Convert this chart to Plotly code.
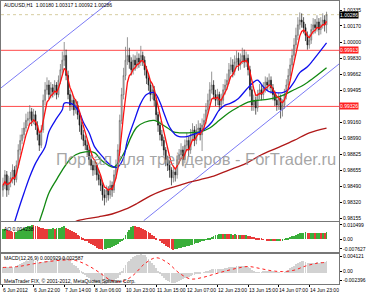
import pandas as pd
import plotly.graph_objects as go

# ---------------- data ----------------
first_open = 0.9845
close = [
    0.9850, 0.9861, 0.9845, 0.9853, 0.9858, 0.9866, 0.9856, 0.9871, 0.9887, 0.9897,
    0.9903, 0.9910, 0.9918, 0.9920, 0.9927, 0.9918, 0.9924, 0.9913, 0.9903, 0.9892,
    0.9908, 0.9939, 0.9950, 0.9955, 0.9945, 0.9952, 0.9948, 0.9955, 0.9945, 0.9960,
    0.9971, 0.9981, 0.9986, 0.9965, 0.9945, 0.9934, 0.9939, 0.9929, 0.9934, 0.9924,
    0.9913, 0.9903, 0.9897, 0.9892, 0.9887, 0.9877, 0.9871, 0.9866, 0.9871, 0.9861,
    0.9856, 0.9850, 0.9840, 0.9837, 0.9845, 0.9840, 0.9850, 0.9845, 0.9861, 0.9871,
    0.9887, 0.9918, 0.9945, 0.9965, 0.9981, 0.9986, 0.9979, 0.9971, 0.9981, 0.9976,
    0.9983, 0.9979, 0.9986, 0.9981, 0.9971, 0.9962, 0.9955, 0.9945, 0.9950, 0.9939,
    0.9924, 0.9913, 0.9903, 0.9897, 0.9887, 0.9877, 0.9871, 0.9866, 0.9858, 0.9864,
    0.9861, 0.9877, 0.9882, 0.9887, 0.9877, 0.9892, 0.9897, 0.9887, 0.9903, 0.9908,
    0.9897, 0.9908, 0.9910, 0.9903, 0.9913, 0.9918, 0.9929, 0.9939, 0.9950, 0.9955,
    0.9945, 0.9939, 0.9945, 0.9934, 0.9939, 0.9950, 0.9955, 0.9960, 0.9971, 0.9976,
    0.9969, 0.9979, 0.9983, 0.9976, 0.9981, 0.9986, 0.9979, 0.9983, 0.9971, 0.9950,
    0.9934, 0.9939, 0.9931, 0.9945, 0.9950, 0.9945, 0.9952, 0.9958, 0.9955, 0.9960,
    0.9952, 0.9945, 0.9939, 0.9934, 0.9941, 0.9929, 0.9934, 0.9945, 0.9955, 0.9965,
    0.9976, 0.9986, 0.9997, 1.0007, 1.0018, 1.0023, 1.0021, 1.0015, 1.0007, 0.9997,
    1.0002, 1.0013, 1.0018, 1.0015, 1.0021, 1.0013, 1.0018, 1.0023, 1.0018, 1.00286,
]
high = [
    0.9858, 0.9866, 0.9865, 0.9860, 0.9864, 0.9872, 0.9870, 0.9876, 0.9893, 0.9903,
    0.9910, 0.9916, 0.9925, 0.9927, 0.9934, 0.9931, 0.9930, 0.9928, 0.9917, 0.9906,
    0.9913, 0.9945, 0.9958, 0.9963, 0.9960, 0.9958, 0.9956, 0.9960, 0.9958, 0.9965,
    0.9977, 0.9990, 1.0000, 0.9992, 0.9970, 0.9950, 0.9945, 0.9943, 0.9940, 0.9938,
    0.9928, 0.9917, 0.9908, 0.9902, 0.9898, 0.9890, 0.9882, 0.9876, 0.9877, 0.9874,
    0.9866, 0.9860, 0.9853, 0.9846, 0.9850, 0.9849, 0.9855, 0.9854, 0.9866, 0.9877,
    0.9893, 0.9924, 0.9952, 0.9973, 0.9995, 1.0005, 0.9994, 0.9984, 0.9987, 0.9986,
    0.9990, 0.9988, 0.9996, 0.9990, 0.9985, 0.9975, 0.9967, 0.9959, 0.9956, 0.9954,
    0.9942, 0.9927, 0.9917, 0.9908, 0.9901, 0.9890, 0.9881, 0.9876, 0.9869, 0.9870,
    0.9868, 0.9882, 0.9888, 0.9894, 0.9891, 0.9898, 0.9905, 0.9901, 0.9909, 0.9915,
    0.9912, 0.9914, 0.9918, 0.9915, 0.9920, 0.9925, 0.9936, 0.9946, 0.9958, 0.9969,
    0.9960, 0.9950, 0.9951, 0.9948, 0.9946, 0.9956, 0.9961, 0.9967, 0.9978, 0.9984,
    0.9982, 0.9986, 0.9991, 0.9989, 0.9988, 0.9994, 0.9992, 0.9990, 0.9987, 0.9975,
    0.9954, 0.9945, 0.9943, 0.9950, 0.9956, 0.9955, 0.9958, 0.9964, 0.9963, 0.9967,
    0.9964, 0.9956, 0.9949, 0.9944, 0.9947, 0.9945, 0.9940, 0.9951, 0.9961, 0.9972,
    0.9983, 0.9993, 1.0004, 1.0015, 1.0026, 1.0031, 1.0030, 1.0026, 1.0019, 1.0011,
    1.0008, 1.0019, 1.0025, 1.0024, 1.0028, 1.0025, 1.0026, 1.0030, 1.0028, 1.00317,
]
low = [
    0.9838, 0.9846, 0.9838, 0.9840, 0.9848, 0.9852, 0.9850, 0.9853, 0.9868, 0.9882,
    0.9893, 0.9899, 0.9906, 0.9912, 0.9915, 0.9912, 0.9914, 0.9908, 0.9897, 0.9886,
    0.9889, 0.9905, 0.9934, 0.9945, 0.9940, 0.9941, 0.9942, 0.9944, 0.9940, 0.9942,
    0.9956, 0.9967, 0.9975, 0.9960, 0.9940, 0.9928, 0.9929, 0.9923, 0.9925, 0.9919,
    0.9906, 0.9898, 0.9891, 0.9887, 0.9881, 0.9871, 0.9866, 0.9860, 0.9861, 0.9855,
    0.9850, 0.9844, 0.9834, 0.9829, 0.9832, 0.9834, 0.9836, 0.9838, 0.9842, 0.9857,
    0.9867, 0.9884, 0.9914, 0.9940, 0.9960, 0.9976, 0.9972, 0.9965, 0.9966, 0.9970,
    0.9972, 0.9973, 0.9975, 0.9975, 0.9965, 0.9956, 0.9949, 0.9938, 0.9940, 0.9933,
    0.9918, 0.9906, 0.9897, 0.9891, 0.9881, 0.9870, 0.9865, 0.9858, 0.9850, 0.9853,
    0.9854, 0.9857, 0.9872, 0.9877, 0.9870, 0.9873, 0.9887, 0.9880, 0.9883, 0.9898,
    0.9891, 0.9893, 0.9903, 0.9897, 0.9886, 0.9908, 0.9914, 0.9925, 0.9934, 0.9946,
    0.9940, 0.9933, 0.9934, 0.9928, 0.9930, 0.9935, 0.9945, 0.9950, 0.9956, 0.9966,
    0.9963, 0.9965, 0.9974, 0.9970, 0.9971, 0.9977, 0.9973, 0.9974, 0.9965, 0.9943,
    0.9928, 0.9928, 0.9924, 0.9927, 0.9940, 0.9939, 0.9940, 0.9947, 0.9949, 0.9950,
    0.9946, 0.9939, 0.9933, 0.9928, 0.9929, 0.9920, 0.9922, 0.9930, 0.9940, 0.9950,
    0.9960, 0.9971, 0.9981, 0.9992, 1.0002, 1.0013, 1.0015, 1.0009, 1.0001, 0.9992,
    0.9993, 0.9998, 1.0008, 1.0009, 1.0011, 1.0007, 1.0008, 1.0014, 1.0011, 1.00092,
]

# moving averages (bar index, price)
ma_blue_i = [6, 8, 11, 14, 17, 19, 22, 24, 28, 31, 32, 35, 37, 40, 42, 45, 48, 52, 55, 58, 60,
             63, 65, 69, 72, 75, 79, 82, 84, 87, 90, 92, 96, 99, 103, 106, 109, 113, 116, 119,
             123, 127, 131, 133, 136, 139, 142, 146, 149, 152, 155, 159, 162, 169]
ma_blue_p = [0.9811, 0.9824, 0.9842, 0.9859, 0.9873, 0.9880, 0.9890, 0.9906, 0.9920, 0.9929, 0.9936,
             0.9936, 0.9934, 0.9926, 0.9916, 0.9905, 0.9890, 0.9880, 0.9873, 0.9869, 0.9869,
             0.9879, 0.9897, 0.9920, 0.9936, 0.9945, 0.9947, 0.9937, 0.9926, 0.9911, 0.9903,
             0.9901, 0.9901, 0.9903, 0.9906, 0.9910, 0.9916, 0.9929, 0.9934, 0.9936,
             0.9941, 0.9950, 0.9958, 0.9960, 0.9953, 0.9948, 0.9947, 0.9947, 0.9950, 0.9958,
             0.9968, 0.9974, 0.9981, 0.9999]
ma_green_i = [19, 21, 24, 28, 31, 35, 38, 43, 48, 51, 55, 58, 60, 64, 67, 70, 74, 79, 82, 86, 89,
              92, 97, 103, 108, 113, 118, 123, 128, 133, 138, 143, 147, 152, 157, 162, 169]
ma_green_p = [0.9812, 0.9824, 0.9842, 0.9856, 0.9866, 0.9877, 0.9882, 0.9885, 0.9884, 0.9877,
              0.9871, 0.9869, 0.9873, 0.9887, 0.9901, 0.9911, 0.9916, 0.9918, 0.9915, 0.9910,
              0.9906, 0.9905, 0.9905, 0.9906, 0.9910, 0.9918, 0.9926, 0.9932, 0.9937, 0.9939,
              0.9940, 0.9942, 0.9945, 0.9950, 0.9955, 0.9962, 0.9973]
ma_slow_i = [36, 39, 50, 57, 64, 70, 77, 84, 92, 97, 103, 109, 118, 127, 135, 143, 152, 160, 169]
ma_slow_p = [0.9810, 0.9813, 0.9817, 0.9820, 0.9825, 0.9831, 0.9839, 0.9845, 0.9850, 0.9853,
             0.9856, 0.9859, 0.9866, 0.9873, 0.9882, 0.9889, 0.9897, 0.9905, 0.9910]

# trend channel anchors (bar index, price)
chan_up_i = [-1, 57]
chan_up_p = [0.9952, 1.0044]
chan_dn_i = [73.5, 175.5]
chan_dn_p = [0.9813, 0.9977]

level_lines = [0.99913, 0.99326]
bid_price = 1.00286

price_ticks = [1.00335, 1.00170, 1.00000, 0.99830, 0.99662, 0.99495, 0.99160,
               0.98990, 0.98825, 0.98655, 0.98490, 0.98320, 0.98155]

ao = [
    0.0060, 0.0064, 0.0058, 0.0052, 0.0048, 0.0046, 0.0042, 0.0044, 0.0050, 0.0056,
    0.0062, 0.0068, 0.0074, 0.0078, 0.0082, 0.0086, 0.0085, 0.0082, 0.0078, 0.0072,
    0.0068, 0.0066, 0.0064, 0.0062, 0.0063, 0.0064, 0.0066, 0.0065, 0.0066, 0.0068,
    0.0071, 0.0075, 0.0078, 0.0070, 0.0063, 0.0055, 0.0048, 0.0042, 0.0036, 0.0028,
    0.0020, 0.0012, 0.0004, -0.0004, -0.0012, -0.0020, -0.0028, -0.0036, -0.0043, -0.0050,
    -0.0056, -0.0060, -0.0063, -0.0061, -0.0058, -0.0055, -0.0051, -0.0046, -0.0040, -0.0034,
    -0.0026, -0.0018, -0.0008, 0.0008, 0.0025, 0.0042, 0.0058, 0.0072, 0.0082, 0.0080,
    0.0077, 0.0073, 0.0069, 0.0064, 0.0058, 0.0051, 0.0044, 0.0036, 0.0028, 0.0019,
    0.0010, 0.0000, -0.0010, -0.0020, -0.0030, -0.0039, -0.0047, -0.0054, -0.0059, -0.0062,
    -0.0060, -0.0057, -0.0054, -0.0051, -0.0049, -0.0046, -0.0042, -0.0039, -0.0035, -0.0031,
    -0.0028, -0.0024, -0.0021, -0.0017, -0.0012, -0.0008, -0.0003, 0.0003, 0.0009, 0.0015,
    0.0020, 0.0024, 0.0028, 0.0031, 0.0033, 0.0032, 0.0034, 0.0031, 0.0030, 0.0032,
    0.0029, 0.0031, 0.0028, 0.0027, 0.0029, 0.0026, 0.0024, 0.0025, 0.0022, 0.0020,
    0.0016, 0.0013, 0.0009, 0.0007, 0.0005, 0.0004, 0.0002, 0.0000, -0.0004, -0.0006,
    -0.0005, -0.0007, -0.0008, -0.0007, -0.0005, -0.0006, -0.0004, -0.0001, 0.0003, 0.0008,
    0.0013, 0.0018, 0.0023, 0.0028, 0.0032, 0.0036, 0.0039, 0.0041, 0.0042, 0.0040,
    0.0039, 0.0040, 0.0041, 0.0039, 0.0040, 0.0041, 0.0040, 0.0041, 0.0040, 0.004238,
]
macd_main = [
    0.0012, 0.0013, 0.0012, 0.0012, 0.0013, 0.0014, 0.0014, 0.0015, 0.0017, 0.0019,
    0.0021, 0.0023, 0.0025, 0.0026, 0.0028, 0.0028, 0.0028, 0.0027, 0.0025, 0.0022,
    0.0021, 0.0023, 0.0025, 0.0027, 0.0027, 0.0028, 0.0028, 0.0029, 0.0028, 0.0029,
    0.0031, 0.0033, 0.0035, 0.0033, 0.0029, 0.0025, 0.0022, 0.0018, 0.0015, 0.0011,
    0.0007, 0.0003, -0.0001, -0.0005, -0.0008, -0.0012, -0.0015, -0.0018, -0.0019, -0.0021,
    -0.0022, -0.0023, -0.0024, -0.0024, -0.0023, -0.0022, -0.0021, -0.0019, -0.0017, -0.0014,
    -0.0010, -0.0004, 0.0003, 0.0010, 0.0017, 0.0023, 0.0027, 0.0030, 0.0034, 0.0036,
    0.0039, 0.0040, 0.0041, 0.0040, 0.0038, 0.0035, 0.0031, 0.0026, 0.0022, 0.0017,
    0.0011, 0.0005, -0.0001, -0.0006, -0.0011, -0.0015, -0.0018, -0.0020, -0.0022, -0.0022,
    -0.0021, -0.0019, -0.0017, -0.0015, -0.0014, -0.0012, -0.0010, -0.0009, -0.0007, -0.0005,
    -0.0004, -0.0003, -0.0002, -0.0001, 0.0000, 0.0001, 0.0003, 0.0005, 0.0007, 0.0009,
    0.0009, 0.0009, 0.0009, 0.0008, 0.0008, 0.0009, 0.0010, 0.0011, 0.0012, 0.0013,
    0.0013, 0.0014, 0.0015, 0.0015, 0.0015, 0.0016, 0.0015, 0.0015, 0.0013, 0.0010,
    0.0006, 0.0004, 0.0002, 0.0002, 0.0002, 0.0002, 0.0003, 0.0003, 0.0004, 0.0004,
    0.0004, 0.0003, 0.0002, 0.0001, 0.0001, 0.0000, 0.0000, 0.0002, 0.0004, 0.0007,
    0.0010, 0.0013, 0.0016, 0.0019, 0.0022, 0.0024, 0.0025, 0.0025, 0.0024, 0.0022,
    0.0021, 0.0021, 0.0022, 0.0022, 0.0023, 0.0022, 0.0023, 0.0024, 0.0023, 0.0026,
]
sig_i = [0, 8, 16, 24, 32, 38, 44, 50, 56, 62, 68, 74, 80, 86, 92, 98, 104, 110, 116, 122,
         128, 134, 140, 146, 152, 158, 164, 169]
sig_v = [0.0012, 0.0014, 0.0020, 0.0025, 0.0028, 0.0027, 0.0017, 0.0002, -0.0015, -0.0019,
         -0.0005, 0.0020, 0.0033, 0.0022, 0.0000, -0.0013, -0.0010, -0.0003, 0.0004, 0.0010,
         0.0014, 0.0010, 0.0005, 0.0003, 0.0006, 0.0015, 0.0021, 0.0023]

date_ticks = [0, 16, 32, 48, 64, 80, 96, 112, 128, 144, 160]
date_labels = ["6 Jun 2012", "6 Jun 22:00", "7 Jun 14:00", "8 Jun 06:00", "10 Jun 23:00",
               "11 Jun 15:00", "12 Jun 07:00", "12 Jun 23:00", "13 Jun 15:00",
               "14 Jun 07:00", "14 Jun 23:00"]

ao_range = [-0.007627, 0.010499]
macd_range = [-0.002396, 0.004121]

# ---------------- figure ----------------
bars = list(range(len(close)))
opens = [first_open] + close[:-1]
ma_red = pd.Series(close).ewm(span=5, adjust=False).mean().tolist()
ao_col = ["#3aae3a" if (i == 0 or ao[i] >= ao[i - 1]) else "#e83a3a" for i in range(len(ao))]

FONT = "Liberation Sans"
fig = go.Figure()

fig.add_trace(go.Scatter(x=chan_up_i, y=chan_up_p, mode="lines",
                         line=dict(color="#7b7bf5", width=1), hoverinfo="skip"))
fig.add_trace(go.Scatter(x=chan_dn_i, y=chan_dn_p, mode="lines",
                         line=dict(color="#7b7bf5", width=1), hoverinfo="skip"))
fig.add_trace(go.Candlestick(
    x=bars, open=opens, high=high, low=low, close=close,
    increasing=dict(line=dict(color="#6a6a6a", width=0.7), fillcolor="#d4d4d4"),
    decreasing=dict(line=dict(color="#1a1a1a", width=0.7), fillcolor="#1a1a1a"),
    whiskerwidth=0, hoverinfo="skip"))
fig.add_trace(go.Scatter(x=ma_slow_i, y=ma_slow_p, mode="lines",
                         line=dict(color="#b01818", width=1.3, shape="spline"), hoverinfo="skip"))
fig.add_trace(go.Scatter(x=ma_green_i, y=ma_green_p, mode="lines",
                         line=dict(color="#118811", width=1.3, shape="spline"), hoverinfo="skip"))
fig.add_trace(go.Scatter(x=ma_blue_i, y=ma_blue_p, mode="lines",
                         line=dict(color="#1010ee", width=1.3, shape="spline"), hoverinfo="skip"))
fig.add_trace(go.Scatter(x=bars, y=ma_red, mode="lines",
                         line=dict(color="#ff1010", width=1.3), hoverinfo="skip"))

fig.add_trace(go.Bar(x=bars, y=ao, marker=dict(color=ao_col, line=dict(width=0)),
                     width=0.42, xaxis="x2", yaxis="y2", hoverinfo="skip"))
fig.add_trace(go.Bar(x=bars, y=macd_main, marker=dict(color="#d2d2d2", line=dict(width=0)),
                     width=0.42, xaxis="x3", yaxis="y3", hoverinfo="skip"))
fig.add_trace(go.Scatter(x=sig_i, y=sig_v, mode="lines", xaxis="x3", yaxis="y3",
                         line=dict(color="#ff2020", width=1, dash="dot", shape="spline"),
                         hoverinfo="skip"))

shapes = []
for lv in level_lines:
    shapes.append(dict(type="line", xref="paper", x0=0, x1=1, yref="y", y0=lv, y1=lv,
                       line=dict(color="#ff4a4a", width=1), layer="below"))
shapes.append(dict(type="line", xref="paper", x0=0, x1=1, yref="y", y0=bid_price, y1=bid_price,
                   line=dict(color="#d6cda0", width=1, dash="dot"), layer="below"))

ann = []
small = dict(family=FONT, size=5, color="#000000")
ann.append(dict(text="AUDUSD,H1  1.00180 1.00317 1.00092 1.00286", xref="paper", yref="paper",
                x=0.004, y=0.985, xanchor="left", yanchor="middle", showarrow=False, font=small))
ann.append(dict(text="AO 0.004238", xref="paper", yref="paper", x=0.004, y=0.194,
                xanchor="left", yanchor="middle", showarrow=False, font=small))
ann.append(dict(text="MACD(12,26,9) 0.000929 0.002587", xref="paper", yref="paper", x=0.004,
                y=0.092, xanchor="left", yanchor="middle", showarrow=False, font=small))
ann.append(dict(text="MetaTrader FIX, © 2001-2012, MetaQuotes Software Corp.", xref="paper",
                yref="paper", x=0.004, y=0.011, xanchor="left", yanchor="middle",
                showarrow=False, font=small))
ann.append(dict(text="Портал для трейдеров - ForTrader.ru", xref="paper", yref="paper",
                x=0.578, y=0.442, xanchor="center", yanchor="middle", showarrow=False,
                font=dict(family=FONT, size=16.5, color="rgba(150,150,150,0.85)")))
for t, lab in zip(date_ticks, date_labels):
    ann.append(dict(text=lab, xref="x3", yref="paper", x=t - 0.8, y=-0.005, xanchor="left",
                    yanchor="top", showarrow=False, font=small))
for lv in level_lines:
    ann.append(dict(text=f"{lv:.5f}", xref="paper", yref="y", x=1.0, y=lv, xanchor="left",
                    yanchor="middle", showarrow=False, bgcolor="#ff2020", borderpad=0,
                    font=dict(family=FONT, size=5, color="#ffffff")))
ann.append(dict(text=f"{bid_price:.5f}", xref="paper", yref="y", x=1.0, y=bid_price,
                xanchor="left", yanchor="middle", showarrow=False, bgcolor="#000000",
                borderpad=0, font=dict(family=FONT, size=5, color="#ffffff")))

xbase = dict(range=[-1.02, 175.5], showgrid=False, zeroline=False, showline=True, mirror=True,
             linecolor="#777777", linewidth=1, showticklabels=False, ticks="")
ybase = dict(side="right", showgrid=False, zeroline=False, showline=True, mirror=True,
             linecolor="#777777", linewidth=1, ticks="outside", ticklen=2, tickcolor="#000",
             tickfont=dict(family=FONT, size=5, color="#000"))

fig.update_layout(
    width=366, height=293, margin=dict(l=0, r=20, t=1, b=9),
    paper_bgcolor="white", plot_bgcolor="white", showlegend=False, bargap=0,
    shapes=shapes, annotations=ann,
    xaxis=dict(xbase, anchor="y", rangeslider=dict(visible=False)),
    xaxis2=dict(xbase, anchor="y2", matches="x"),
    xaxis3=dict(xbase, anchor="y3", matches="x", ticks="outside", ticklen=2,
                tickvals=date_ticks, tickcolor="#000"),
    yaxis=dict(ybase, domain=[0.2226, 1.0], range=[0.981267, 1.004292],
               tickvals=price_ticks, ticktext=[f"{v:.5f}" for v in price_ticks]),
    yaxis2=dict(ybase, domain=[0.1131, 0.2191], range=ao_range,
                tickvals=[0.00869, 0.0, -0.00581], ticktext=["0.010499", "0.00", "-0.007627"]),
    yaxis3=dict(ybase, domain=[0.0, 0.106], range=macd_range,
                tickvals=[0.00353, 0.00028, -0.00167], ticktext=["0.004121", "0.00", "-0.002396"]),
)

fig.write_html("out.html")
